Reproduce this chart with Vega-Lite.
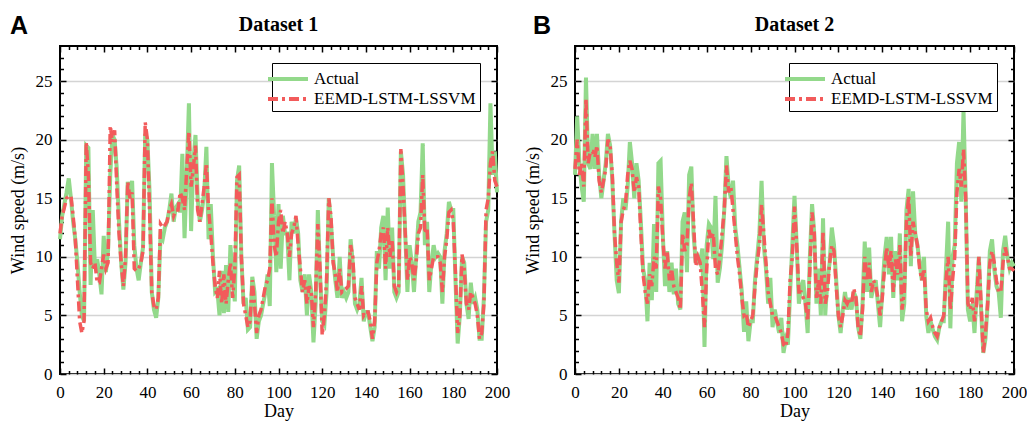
{
"$schema":"https://vega.github.io/schema/vega-lite/v6.json",
"background":"white",
"padding":{"left":8,"top":14,"right":0,"bottom":0},
"config":{
 "font":"Liberation Serif",
 "view":{"stroke":"black","strokeWidth":2},
 "axis":{"labelFont":"Liberation Serif","labelFontSize":17,"labelColor":"black","titleFont":"Liberation Serif","titleFontSize":18,"titleFontWeight":"normal","titleColor":"black","tickColor":"black","tickWidth":1.5,"domain":false,"grid":false,"labelFlush":false},
 "legend":{"labelFont":"Liberation Serif","labelFontSize":17,"labelLimit":400},
 "style":{"guide-label":{"font":"Liberation Serif"},"guide-title":{"font":"Liberation Serif"}},
 "title":{"font":"Liberation Serif","fontSize":20,"fontWeight":"bold","color":"black","offset":10}
},
"datasets":{
"d1":[
{"day":0,"a":11.5,"p":12.0},{"day":1,"a":13.5,"p":13.5},{"day":2,"a":14.5,"p":14.2},{"day":3,"a":15.5,"p":15.0},{"day":4,"a":16.7,"p":15.2},{"day":5,"a":15.0,"p":15.2},{"day":6,"a":13.0,"p":13.5},{"day":7,"a":11.5,"p":11.5},{"day":8,"a":9.5,"p":8.0},{"day":9,"a":7.0,"p":4.5},
{"day":10,"a":5.0,"p":3.5},{"day":11,"a":4.5,"p":4.5},{"day":12,"a":19.5,"p":19.8},{"day":13,"a":19.3,"p":17.0},{"day":14,"a":7.6,"p":9.5},{"day":15,"a":14.0,"p":9.0},{"day":16,"a":9.0,"p":9.5},{"day":17,"a":9.8,"p":7.8},{"day":18,"a":8.5,"p":7.8},{"day":19,"a":6.8,"p":9.0},
{"day":20,"a":11.8,"p":10.2},{"day":21,"a":8.7,"p":9.0},{"day":22,"a":10.5,"p":9.5},{"day":23,"a":17.0,"p":21.2},{"day":24,"a":20.4,"p":19.8},{"day":25,"a":20.0,"p":20.8},{"day":26,"a":17.5,"p":16.0},{"day":27,"a":13.0,"p":12.0},{"day":28,"a":9.5,"p":9.5},{"day":29,"a":7.2,"p":7.5},
{"day":30,"a":9.5,"p":10.0},{"day":31,"a":16.4,"p":16.4},{"day":32,"a":15.2,"p":15.0},{"day":33,"a":16.5,"p":15.5},{"day":34,"a":11.0,"p":9.0},{"day":35,"a":9.0,"p":8.8},{"day":36,"a":8.0,"p":9.0},{"day":37,"a":9.5,"p":9.5},{"day":38,"a":10.8,"p":10.5},{"day":39,"a":20.5,"p":21.5},
{"day":40,"a":20.0,"p":20.0},{"day":41,"a":15.5,"p":14.0},{"day":42,"a":7.0,"p":7.0},{"day":43,"a":5.5,"p":5.8},{"day":44,"a":4.8,"p":5.5},{"day":45,"a":6.5,"p":6.5},{"day":46,"a":11.8,"p":12.8},{"day":47,"a":11.5,"p":12.5},{"day":48,"a":12.5,"p":12.7},{"day":49,"a":13.0,"p":13.0},
{"day":50,"a":14.0,"p":14.0},{"day":51,"a":15.4,"p":14.5},{"day":52,"a":13.0,"p":13.5},{"day":53,"a":14.2,"p":14.0},{"day":54,"a":14.5,"p":14.0},{"day":55,"a":13.8,"p":15.5},{"day":56,"a":18.8,"p":15.0},{"day":57,"a":11.6,"p":14.0},{"day":58,"a":17.0,"p":17.5},{"day":59,"a":23.1,"p":20.7},
{"day":60,"a":12.2,"p":16.0},{"day":61,"a":18.0,"p":17.5},{"day":62,"a":20.4,"p":19.5},{"day":63,"a":15.0,"p":14.0},{"day":64,"a":13.0,"p":13.0},{"day":65,"a":14.0,"p":14.5},{"day":66,"a":15.5,"p":16.0},{"day":67,"a":19.4,"p":18.0},{"day":68,"a":11.5,"p":14.0},{"day":69,"a":14.5,"p":12.0},
{"day":70,"a":10.0,"p":9.5},{"day":71,"a":7.0,"p":7.5},{"day":72,"a":7.2,"p":6.5},{"day":73,"a":5.0,"p":8.8},{"day":74,"a":8.8,"p":6.0},{"day":75,"a":5.2,"p":8.5},{"day":76,"a":9.3,"p":6.0},{"day":77,"a":5.3,"p":8.0},{"day":78,"a":11.0,"p":9.5},{"day":79,"a":8.0,"p":6.5},
{"day":80,"a":6.2,"p":9.0},{"day":81,"a":16.5,"p":16.8},{"day":82,"a":17.8,"p":17.0},{"day":83,"a":10.0,"p":10.0},{"day":84,"a":6.0,"p":6.0},{"day":85,"a":6.5,"p":5.0},{"day":86,"a":3.8,"p":4.0},{"day":87,"a":4.0,"p":4.5},{"day":88,"a":8.3,"p":8.0},{"day":89,"a":7.0,"p":6.0},
{"day":90,"a":3.0,"p":3.5},{"day":91,"a":4.5,"p":5.0},{"day":92,"a":5.0,"p":5.5},{"day":93,"a":6.0,"p":6.5},{"day":94,"a":7.0,"p":7.5},{"day":95,"a":8.5,"p":8.0},{"day":96,"a":5.8,"p":9.0},{"day":97,"a":18.0,"p":15.0},{"day":98,"a":13.5,"p":11.0},{"day":99,"a":8.7,"p":10.0},
{"day":100,"a":14.5,"p":13.0},{"day":101,"a":9.0,"p":14.0},{"day":102,"a":13.5,"p":12.0},{"day":103,"a":12.0,"p":13.0},{"day":104,"a":12.0,"p":12.0},{"day":105,"a":8.0,"p":10.0},{"day":106,"a":13.0,"p":12.0},{"day":107,"a":12.0,"p":12.5},{"day":108,"a":13.3,"p":13.5},{"day":109,"a":12.0,"p":11.0},
{"day":110,"a":8.0,"p":9.0},{"day":111,"a":7.0,"p":7.0},{"day":112,"a":8.5,"p":8.0},{"day":113,"a":5.0,"p":6.0},{"day":114,"a":8.5,"p":7.5},{"day":115,"a":7.0,"p":7.0},{"day":116,"a":2.7,"p":4.0},{"day":117,"a":6.0,"p":7.0},{"day":118,"a":14.0,"p":12.8},{"day":119,"a":8.5,"p":9.0},
{"day":120,"a":4.5,"p":3.3},{"day":121,"a":4.2,"p":5.0},{"day":122,"a":7.0,"p":8.0},{"day":123,"a":15.0,"p":15.0},{"day":124,"a":13.0,"p":13.5},{"day":125,"a":10.0,"p":9.5},{"day":126,"a":8.0,"p":8.5},{"day":127,"a":6.5,"p":7.0},{"day":128,"a":10.0,"p":9.0},{"day":129,"a":6.5,"p":7.0},
{"day":130,"a":7.0,"p":7.2},{"day":131,"a":6.5,"p":7.3},{"day":132,"a":7.0,"p":7.5},{"day":133,"a":11.5,"p":11.0},{"day":134,"a":9.5,"p":10.0},{"day":135,"a":6.0,"p":6.5},{"day":136,"a":5.5,"p":6.0},{"day":137,"a":6.0,"p":5.5},{"day":138,"a":8.2,"p":7.5},{"day":139,"a":4.5,"p":5.0},
{"day":140,"a":5.3,"p":5.3},{"day":141,"a":5.3,"p":5.3},{"day":142,"a":4.0,"p":4.5},{"day":143,"a":2.8,"p":3.0},{"day":144,"a":4.0,"p":4.5},{"day":145,"a":10.5,"p":9.5},{"day":146,"a":9.0,"p":10.5},{"day":147,"a":12.5,"p":12.0},{"day":148,"a":13.5,"p":12.5},{"day":149,"a":8.0,"p":9.0},
{"day":150,"a":14.2,"p":12.5},{"day":151,"a":9.0,"p":10.0},{"day":152,"a":12.5,"p":11.5},{"day":153,"a":7.0,"p":7.5},{"day":154,"a":6.5,"p":7.0},{"day":155,"a":7.0,"p":7.5},{"day":156,"a":19.0,"p":19.2},{"day":157,"a":17.0,"p":16.0},{"day":158,"a":12.0,"p":12.0},{"day":159,"a":7.0,"p":8.0},
{"day":160,"a":11.0,"p":10.0},{"day":161,"a":9.5,"p":9.5},{"day":162,"a":7.0,"p":8.0},{"day":163,"a":10.0,"p":9.5},{"day":164,"a":13.0,"p":12.0},{"day":165,"a":13.8,"p":12.5},{"day":166,"a":19.7,"p":17.0},{"day":167,"a":11.0,"p":12.0},{"day":168,"a":13.0,"p":12.5},{"day":169,"a":7.0,"p":8.0},
{"day":170,"a":9.5,"p":9.0},{"day":171,"a":11.0,"p":10.0},{"day":172,"a":10.0,"p":10.0},{"day":173,"a":10.3,"p":10.0},{"day":174,"a":10.0,"p":9.5},{"day":175,"a":6.0,"p":7.0},{"day":176,"a":10.5,"p":10.0},{"day":177,"a":12.0,"p":11.5},{"day":178,"a":14.7,"p":13.8},{"day":179,"a":14.0,"p":14.0},
{"day":180,"a":14.0,"p":13.0},{"day":181,"a":8.0,"p":8.5},{"day":182,"a":2.6,"p":3.5},{"day":183,"a":5.0,"p":5.0},{"day":184,"a":10.0,"p":10.2},{"day":185,"a":9.5,"p":9.0},{"day":186,"a":6.0,"p":6.0},{"day":187,"a":4.7,"p":5.5},{"day":188,"a":7.8,"p":7.0},{"day":189,"a":6.0,"p":6.5},
{"day":190,"a":6.5,"p":6.0},{"day":191,"a":5.5,"p":5.0},{"day":192,"a":3.0,"p":3.0},{"day":193,"a":3.0,"p":3.5},{"day":194,"a":6.5,"p":6.0},{"day":195,"a":13.0,"p":14.0},{"day":196,"a":14.0,"p":15.0},{"day":197,"a":23.1,"p":18.0},{"day":198,"a":17.0,"p":19.0},{"day":199,"a":19.0,"p":16.5},
{"day":200,"a":15.5,"p":16.0}
],
"d2":[
{"day":0,"a":17.0,"p":17.5},{"day":1,"a":22.0,"p":20.0},{"day":2,"a":18.0,"p":17.0},{"day":3,"a":16.0,"p":18.0},{"day":4,"a":14.7,"p":16.0},{"day":5,"a":25.3,"p":23.5},{"day":6,"a":18.0,"p":18.0},{"day":7,"a":17.5,"p":19.0},{"day":8,"a":20.5,"p":19.0},{"day":9,"a":17.5,"p":18.5},
{"day":10,"a":20.5,"p":19.5},{"day":11,"a":17.0,"p":16.5},{"day":12,"a":15.0,"p":15.5},{"day":13,"a":16.5,"p":16.5},{"day":14,"a":18.0,"p":17.5},{"day":15,"a":20.5,"p":20.0},{"day":16,"a":19.5,"p":19.5},{"day":17,"a":16.5,"p":17.0},{"day":18,"a":12.0,"p":12.0},{"day":19,"a":8.0,"p":9.5},
{"day":20,"a":6.9,"p":7.8},{"day":21,"a":13.0,"p":13.0},{"day":22,"a":15.0,"p":14.0},{"day":23,"a":14.0,"p":14.5},{"day":24,"a":16.0,"p":17.0},{"day":25,"a":19.8,"p":18.2},{"day":26,"a":18.0,"p":17.5},{"day":27,"a":15.0,"p":15.5},{"day":28,"a":18.0,"p":16.8},{"day":29,"a":16.5,"p":16.0},
{"day":30,"a":13.0,"p":12.0},{"day":31,"a":9.0,"p":8.5},{"day":32,"a":8.0,"p":7.0},{"day":33,"a":4.5,"p":6.0},{"day":34,"a":9.5,"p":8.5},{"day":35,"a":6.3,"p":7.5},{"day":36,"a":12.8,"p":10.0},{"day":37,"a":7.0,"p":9.0},{"day":38,"a":18.0,"p":16.0},{"day":39,"a":18.2,"p":15.0},
{"day":40,"a":12.0,"p":11.5},{"day":41,"a":7.5,"p":9.0},{"day":42,"a":10.5,"p":10.5},{"day":43,"a":7.0,"p":8.0},{"day":44,"a":9.5,"p":9.0},{"day":45,"a":6.8,"p":7.5},{"day":46,"a":9.0,"p":7.0},{"day":47,"a":6.0,"p":6.5},{"day":48,"a":5.5,"p":5.5},{"day":49,"a":13.0,"p":12.0},
{"day":50,"a":13.8,"p":10.5},{"day":51,"a":8.7,"p":11.0},{"day":52,"a":17.0,"p":15.0},{"day":53,"a":17.7,"p":16.3},{"day":54,"a":12.0,"p":13.0},{"day":55,"a":9.5,"p":9.2},{"day":56,"a":10.0,"p":10.0},{"day":57,"a":9.5,"p":9.5},{"day":58,"a":10.7,"p":7.0},{"day":59,"a":2.3,"p":4.0},
{"day":60,"a":11.0,"p":9.0},{"day":61,"a":12.8,"p":12.3},{"day":62,"a":12.5,"p":11.5},{"day":63,"a":9.8,"p":12.0},{"day":64,"a":15.2,"p":9.0},{"day":65,"a":7.8,"p":8.5},{"day":66,"a":9.0,"p":10.0},{"day":67,"a":11.0,"p":12.0},{"day":68,"a":14.0,"p":14.0},{"day":69,"a":18.6,"p":17.8},
{"day":70,"a":16.0,"p":15.5},{"day":71,"a":15.0,"p":16.0},{"day":72,"a":16.5,"p":14.0},{"day":73,"a":12.5,"p":12.0},{"day":74,"a":11.0,"p":10.0},{"day":75,"a":9.0,"p":8.5},{"day":76,"a":7.0,"p":6.5},{"day":77,"a":3.6,"p":5.0},{"day":78,"a":6.2,"p":5.2},{"day":79,"a":2.8,"p":4.0},
{"day":80,"a":4.5,"p":4.5},{"day":81,"a":4.5,"p":5.0},{"day":82,"a":8.0,"p":7.5},{"day":83,"a":10.0,"p":9.5},{"day":84,"a":12.0,"p":11.0},{"day":85,"a":16.5,"p":14.5},{"day":86,"a":11.0,"p":12.0},{"day":87,"a":9.0,"p":9.5},{"day":88,"a":6.0,"p":7.0},{"day":89,"a":8.2,"p":6.0},
{"day":90,"a":4.0,"p":5.0},{"day":91,"a":5.5,"p":5.0},{"day":92,"a":4.5,"p":4.5},{"day":93,"a":3.5,"p":4.0},{"day":94,"a":4.8,"p":3.5},{"day":95,"a":1.8,"p":2.5},{"day":96,"a":3.0,"p":2.3},{"day":97,"a":2.5,"p":3.5},{"day":98,"a":7.0,"p":8.0},{"day":99,"a":11.0,"p":10.0},
{"day":100,"a":15.2,"p":14.3},{"day":101,"a":11.0,"p":11.0},{"day":102,"a":6.0,"p":7.0},{"day":103,"a":7.5,"p":7.0},{"day":104,"a":8.0,"p":6.5},{"day":105,"a":6.0,"p":6.0},{"day":106,"a":3.5,"p":4.5},{"day":107,"a":10.0,"p":9.0},{"day":108,"a":14.5,"p":13.8},{"day":109,"a":12.0,"p":12.0},
{"day":110,"a":6.0,"p":6.5},{"day":111,"a":9.0,"p":8.0},{"day":112,"a":5.0,"p":6.0},{"day":113,"a":13.3,"p":12.2},{"day":114,"a":5.0,"p":6.0},{"day":115,"a":8.0,"p":7.0},{"day":116,"a":9.5,"p":9.5},{"day":117,"a":12.5,"p":11.0},{"day":118,"a":11.0,"p":10.5},{"day":119,"a":8.0,"p":7.5},
{"day":120,"a":5.0,"p":5.0},{"day":121,"a":3.5,"p":4.0},{"day":122,"a":5.5,"p":5.0},{"day":123,"a":7.0,"p":6.3},{"day":124,"a":5.5,"p":6.0},{"day":125,"a":6.5,"p":6.5},{"day":126,"a":5.5,"p":6.0},{"day":127,"a":7.0,"p":7.3},{"day":128,"a":6.5,"p":6.5},{"day":129,"a":4.0,"p":4.0},
{"day":130,"a":3.0,"p":3.2},{"day":131,"a":6.0,"p":5.5},{"day":132,"a":11.3,"p":10.0},{"day":133,"a":7.0,"p":8.0},{"day":134,"a":10.8,"p":9.5},{"day":135,"a":6.5,"p":7.0},{"day":136,"a":7.5,"p":8.0},{"day":137,"a":8.0,"p":7.5},{"day":138,"a":6.0,"p":6.5},{"day":139,"a":4.0,"p":5.0},
{"day":140,"a":7.0,"p":6.5},{"day":141,"a":10.0,"p":9.0},{"day":142,"a":11.7,"p":10.8},{"day":143,"a":8.5,"p":9.0},{"day":144,"a":11.7,"p":10.5},{"day":145,"a":6.5,"p":7.0},{"day":146,"a":10.5,"p":9.8},{"day":147,"a":8.0,"p":8.5},{"day":148,"a":12.0,"p":11.0},{"day":149,"a":4.5,"p":5.5},
{"day":150,"a":6.0,"p":7.0},{"day":151,"a":14.0,"p":13.0},{"day":152,"a":15.8,"p":15.2},{"day":153,"a":9.2,"p":10.0},{"day":154,"a":15.6,"p":13.0},{"day":155,"a":12.0,"p":12.0},{"day":156,"a":11.0,"p":11.0},{"day":157,"a":9.5,"p":9.0},{"day":158,"a":8.0,"p":8.0},{"day":159,"a":10.0,"p":9.0},
{"day":160,"a":5.0,"p":5.5},{"day":161,"a":3.5,"p":4.5},{"day":162,"a":4.5,"p":4.8},{"day":163,"a":3.8,"p":4.0},{"day":164,"a":3.2,"p":3.5},{"day":165,"a":2.9,"p":3.2},{"day":166,"a":4.0,"p":4.0},{"day":167,"a":4.5,"p":4.5},{"day":168,"a":4.5,"p":5.0},{"day":169,"a":9.0,"p":8.0},
{"day":170,"a":13.0,"p":10.0},{"day":171,"a":3.9,"p":5.5},{"day":172,"a":10.0,"p":8.0},{"day":173,"a":11.0,"p":10.0},{"day":174,"a":18.0,"p":15.5},{"day":175,"a":19.8,"p":17.5},{"day":176,"a":14.7,"p":16.0},{"day":177,"a":22.5,"p":19.2},{"day":178,"a":15.0,"p":15.0},{"day":179,"a":5.5,"p":6.0},
{"day":180,"a":4.5,"p":5.5},{"day":181,"a":6.0,"p":6.5},{"day":182,"a":3.5,"p":4.5},{"day":183,"a":7.0,"p":6.0},{"day":184,"a":10.0,"p":10.0},{"day":185,"a":5.5,"p":6.0},{"day":186,"a":1.8,"p":1.8},{"day":187,"a":3.0,"p":3.5},{"day":188,"a":6.0,"p":6.0},{"day":189,"a":10.5,"p":9.5},
{"day":190,"a":11.5,"p":10.5},{"day":191,"a":9.0,"p":9.5},{"day":192,"a":7.5,"p":8.0},{"day":193,"a":7.0,"p":7.0},{"day":194,"a":4.8,"p":7.0},{"day":195,"a":10.5,"p":9.5},{"day":196,"a":11.8,"p":10.8},{"day":197,"a":10.0,"p":10.0},{"day":198,"a":9.0,"p":9.0},{"day":199,"a":9.5,"p":9.0},
{"day":200,"a":9.2,"p":8.8}
]
},
"spacing":12,
"resolve":{"scale":{"color":"independent","strokeDash":"independent"}},
"hconcat":[
{"title":{"text":"A","anchor":"start","frame":"bounds","font":"Liberation Sans","fontSize":25,"fontWeight":"bold","offset":-25,"dx":2},
 "resolve":{"scale":{"color":"independent","strokeDash":"independent"}},
 "hconcat":[
 {"width":437,"height":328,"title":"Dataset 1","data":{"name":"d1"},
  "resolve":{"axis":{"x":"independent","y":"independent"}},
  "layer":[
   {"mark":{"type":"line","strokeWidth":4},
    "encoding":{
     "x":{"field":"day","type":"quantitative","scale":{"domain":[0,200],"nice":false},"axis":{"orient":"bottom","values":[0,20,40,60,80,100,120,140,160,180,200],"tickSize":-6,"labelPadding":16,"labelFont":"Liberation Serif","title":"Day","titlePadding":2}},
     "y":{"field":"a","type":"quantitative","scale":{"domain":[0,28],"nice":false},"axis":{"orient":"left","values":[0,5,10,15,20,25],"tickSize":-6,"labelPadding":14,"labelFont":"Liberation Serif","grid":true,"gridColor":"#d4d4d4","gridWidth":1.3,"title":"Wind speed (m/s)","titlePadding":8}},
     "color":{"datum":"Actual","type":"nominal","scale":{"domain":["Actual","EEMD-LSTM-LSSVM"],"range":["#93d98b","#f25b5b"]},"legend":{"title":null,"orient":"top-right","offset":17,"symbolType":"M-2,0H2","symbolSize":400,"symbolStrokeWidth":4,"labelFont":"Liberation Serif","labelFontSize":17,"labelLimit":400,"labelColor":"black","strokeColor":"black","fillColor":"white","padding":4,"rowPadding":0,"labelOffset":14}},
     "strokeDash":{"datum":"Actual","type":"nominal","scale":{"domain":["Actual","EEMD-LSTM-LSSVM"],"range":[[1,0],[10,4,3,4]]}}
    }},
   {"mark":{"type":"line","strokeWidth":3.5},
    "encoding":{
     "x":{"field":"day","type":"quantitative","scale":{"domain":[0,200],"nice":false},"axis":{"orient":"top","values":[0,20,40,60,80,100,120,140,160,180,200],"tickSize":-6,"labels":false,"title":null}},
     "y":{"field":"p","type":"quantitative","scale":{"domain":[0,28],"nice":false},"axis":{"orient":"right","values":[0,5,10,15,20,25],"tickSize":-6,"labels":false,"title":null}},
     "color":{"datum":"EEMD-LSTM-LSSVM","type":"nominal"},
     "strokeDash":{"datum":"EEMD-LSTM-LSSVM","type":"nominal"}
    }},
   {"mark":{"type":"point","opacity":0},
    "encoding":{
     "x":{"field":"day","type":"quantitative","scale":{"domain":[0,200],"nice":false},"axis":{"orient":"bottom","values":[4,8,12,16,24,28,32,36,44,48,52,56,64,68,72,76,84,88,92,96,104,108,112,116,124,128,132,136,144,148,152,156,164,168,172,176,184,188,192,196],"tickSize":-3.5,"labels":false,"title":null}},
     "y":{"field":"a","type":"quantitative","scale":{"domain":[0,28],"nice":false},"axis":{"orient":"left","values":[1,2,3,4,6,7,8,9,11,12,13,14,16,17,18,19,21,22,23,24,26,27],"tickSize":-3.5,"labels":false,"title":null}}
    }},
   {"mark":{"type":"point","opacity":0},
    "encoding":{
     "x":{"field":"day","type":"quantitative","scale":{"domain":[0,200],"nice":false},"axis":{"orient":"top","values":[4,8,12,16,24,28,32,36,44,48,52,56,64,68,72,76,84,88,92,96,104,108,112,116,124,128,132,136,144,148,152,156,164,168,172,176,184,188,192,196],"tickSize":-3.5,"labels":false,"title":null}},
     "y":{"field":"a","type":"quantitative","scale":{"domain":[0,28],"nice":false},"axis":{"orient":"right","values":[1,2,3,4,6,7,8,9,11,12,13,14,16,17,18,19,21,22,23,24,26,27],"tickSize":-3.5,"labels":false,"title":null}}
    }}
  ]}
 ]},
{"title":{"text":"B","anchor":"start","frame":"bounds","font":"Liberation Sans","fontSize":25,"fontWeight":"bold","offset":-25,"dx":10},
 "resolve":{"scale":{"color":"independent","strokeDash":"independent"}},
 "hconcat":[
 {"width":439,"height":328,"title":"Dataset 2","data":{"name":"d2"},
  "resolve":{"axis":{"x":"independent","y":"independent"}},
  "layer":[
   {"mark":{"type":"line","strokeWidth":4},
    "encoding":{
     "x":{"field":"day","type":"quantitative","scale":{"domain":[0,200],"nice":false},"axis":{"orient":"bottom","values":[0,20,40,60,80,100,120,140,160,180,200],"tickSize":-6,"labelPadding":16,"labelFont":"Liberation Serif","title":"Day","titlePadding":2}},
     "y":{"field":"a","type":"quantitative","scale":{"domain":[0,28],"nice":false},"axis":{"orient":"left","values":[0,5,10,15,20,25],"tickSize":-6,"labelPadding":14,"labelFont":"Liberation Serif","grid":true,"gridColor":"#d4d4d4","gridWidth":1.3,"title":"Wind speed (m/s)","titlePadding":8}},
     "color":{"datum":"Actual","type":"nominal","scale":{"domain":["Actual","EEMD-LSTM-LSSVM"],"range":["#93d98b","#f25b5b"]},"legend":{"title":null,"orient":"top-right","offset":17,"symbolType":"M-2,0H2","symbolSize":400,"symbolStrokeWidth":4,"labelFont":"Liberation Serif","labelFontSize":17,"labelLimit":400,"labelColor":"black","strokeColor":"black","fillColor":"white","padding":4,"rowPadding":0,"labelOffset":14}},
     "strokeDash":{"datum":"Actual","type":"nominal","scale":{"domain":["Actual","EEMD-LSTM-LSSVM"],"range":[[1,0],[10,4,3,4]]}}
    }},
   {"mark":{"type":"line","strokeWidth":3.5},
    "encoding":{
     "x":{"field":"day","type":"quantitative","scale":{"domain":[0,200],"nice":false},"axis":{"orient":"top","values":[0,20,40,60,80,100,120,140,160,180,200],"tickSize":-6,"labels":false,"title":null}},
     "y":{"field":"p","type":"quantitative","scale":{"domain":[0,28],"nice":false},"axis":{"orient":"right","values":[0,5,10,15,20,25],"tickSize":-6,"labels":false,"title":null}},
     "color":{"datum":"EEMD-LSTM-LSSVM","type":"nominal"},
     "strokeDash":{"datum":"EEMD-LSTM-LSSVM","type":"nominal"}
    }},
   {"mark":{"type":"point","opacity":0},
    "encoding":{
     "x":{"field":"day","type":"quantitative","scale":{"domain":[0,200],"nice":false},"axis":{"orient":"bottom","values":[4,8,12,16,24,28,32,36,44,48,52,56,64,68,72,76,84,88,92,96,104,108,112,116,124,128,132,136,144,148,152,156,164,168,172,176,184,188,192,196],"tickSize":-3.5,"labels":false,"title":null}},
     "y":{"field":"a","type":"quantitative","scale":{"domain":[0,28],"nice":false},"axis":{"orient":"left","values":[1,2,3,4,6,7,8,9,11,12,13,14,16,17,18,19,21,22,23,24,26,27],"tickSize":-3.5,"labels":false,"title":null}}
    }},
   {"mark":{"type":"point","opacity":0},
    "encoding":{
     "x":{"field":"day","type":"quantitative","scale":{"domain":[0,200],"nice":false},"axis":{"orient":"top","values":[4,8,12,16,24,28,32,36,44,48,52,56,64,68,72,76,84,88,92,96,104,108,112,116,124,128,132,136,144,148,152,156,164,168,172,176,184,188,192,196],"tickSize":-3.5,"labels":false,"title":null}},
     "y":{"field":"a","type":"quantitative","scale":{"domain":[0,28],"nice":false},"axis":{"orient":"right","values":[1,2,3,4,6,7,8,9,11,12,13,14,16,17,18,19,21,22,23,24,26,27],"tickSize":-3.5,"labels":false,"title":null}}
    }}
  ]}
 ]}
]
}
